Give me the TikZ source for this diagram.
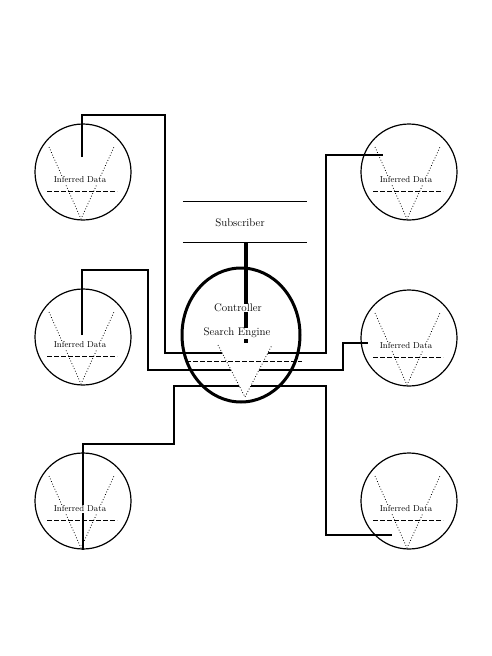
\documentclass[tikz,border=0pt]{standalone}
\usepackage{tikz}
\usetikzlibrary{calc, shapes.geometric}

\begin{document}
\begin{tikzpicture}[
    x=1pt, y=-1pt,
    store/.style={circle, draw=black, line width=1.2pt, minimum size=96pt, inner sep=0pt},
    hubnode/.style={ellipse, draw=black, line width=3pt, minimum width=118pt, minimum height=134pt, inner sep=0pt},
    vee/.style={dotted, line width=0.8pt},
    rule/.style={dash pattern=on 5pt off 2pt, line width=0.8pt},
    wire/.style={line width=2.2pt, line join=miter},
    bar/.style={line width=3.2pt},
    storetxt/.style={fill=white, inner sep=0.5pt, font=\fontsize{8.6}{10}\selectfont},
    hubtxt/.style={fill=white, inner sep=0.5pt, font=\fontsize{11}{13}\selectfont}
]
    \useasboundingbox (0,0) rectangle (491,656);

    % data stores
    \foreach \nm/\x/\y in {tl/83/172, ml/83/337, bl/83/501, tr/409/172, mr/409/338, br/409/501} {
        \node[store] (\nm) at (\x,\y) {};
        \draw[vee] ($(\nm)+(-34,-25)$) -- ($(\nm)+(-2,47)$) -- ($(\nm)+(31,-25)$);
        \draw[rule] ($(\nm)+(-36,19)$) -- ($(\nm)+(34,19)$);
    }

    % controller and subscriber
    \node[hubnode] (ctrl) at (241,335) {};
    \node[minimum width=124pt, minimum height=40pt, inner sep=0pt] (sub) at (245,222) {};
    \draw[line width=0.9pt] (sub.north west) -- (sub.north east);
    \draw[line width=0.9pt] (sub.south west) -- (sub.south east);
    \node[hubtxt] (subtxt) at (240,223) {Subscriber};

    \coordinate (hub) at ($(ctrl)+(5,8)$);
    \draw[bar] (sub.south -| hub) -- (hub);

    % connector ends
    \coordinate (tl-in) at ($(tl)+(-1,-15)$);
    \coordinate (ml-in) at ($(ml)+(-1,-2)$);
    \coordinate (bl-in) at (bl.south);
    \coordinate (tr-in) at ($(tr)+(-26,-17)$);
    \coordinate (mr-in) at ($(mr)+(-41,5)$);
    \coordinate (br-in) at ($(br)+(-17,34)$);

    \draw[wire] (tl-in) -- ++(0,-42) -| ++(83,238) -| ([xshift=-57pt]tr-in) -- (tr-in);
    \draw[wire] (ml-in) -- ++(0,-65) -| ++(66,100) -| ([xshift=-25pt]mr-in) -- (mr-in);
    \draw[wire] (bl-in) -- ++(0,-106) -| ++(91,-58) -| ([xshift=-66pt]br-in) -- (br-in);

    % search funnel
    \fill[white] ($(ctrl)+(-23,10)$) -- ($(ctrl)+(4,62)$) -- ($(ctrl)+(31,10)$) -- cycle;
    \draw[vee] ($(ctrl)+(-23,10)$) -- ($(ctrl)+(4,62)$) -- ($(ctrl)+(31,10)$);
    \draw[rule] ($(ctrl)+(-55,26)$) -- ($(ctrl)+(61,26)$);

    \node[hubtxt] (ctrltxt) at (238,308) {Controller};
    \node[hubtxt] (engtxt) at (237,333) {Search Engine};

    % labels
    \foreach \nm in {tl, ml, bl, tr, mr, br}
        \node[storetxt] (\nm-txt) at ($(\nm)+(-3,8)$) {Inferred Data};
\end{tikzpicture}
\end{document}
